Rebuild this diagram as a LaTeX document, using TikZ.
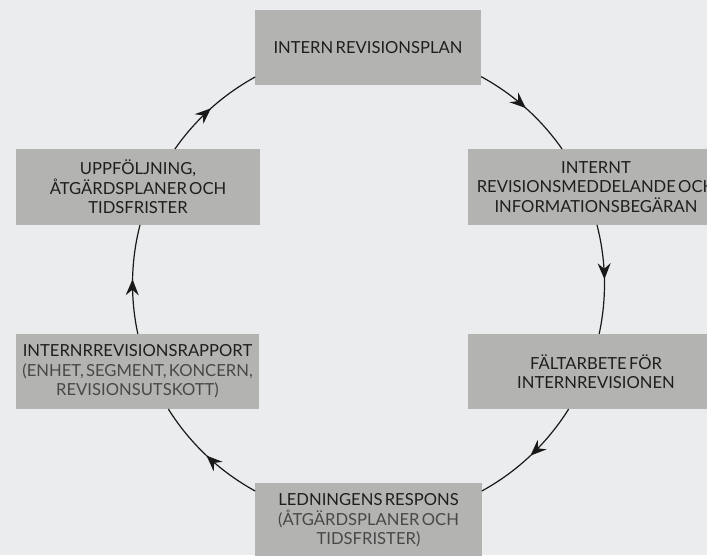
\documentclass[tikz,border=0pt]{standalone}
\usepackage{fontspec}
\setmainfont{Lato}
\usetikzlibrary{arrows.meta,decorations.markings,calc}
\definecolor{bgc}{RGB}{235,236,238}
\definecolor{boxc}{RGB}{179,180,177}
\definecolor{txt}{RGB}{30,30,30}
\definecolor{txtl}{RGB}{72,72,72}
\definecolor{linec}{RGB}{25,25,25}
\newcommand{\myboxfont}{\fontsize{16.6}{19.5}\selectfont\spaceskip=2.3pt plus 1pt minus 1pt\relax}
\tikzset{
  stepbox/.style={fill=boxc, draw=none, inner sep=0pt, align=center, text=txt,
    font=\myboxfont},
  conn/.style={draw=linec, line width=1.2pt,
    postaction={decorate},
    decoration={markings, mark=at position 0.5 with {\arrow{Stealth[length=16pt,width=13pt,inset=5.5pt]}}}},
}
\begin{document}
\begin{tikzpicture}[x=1pt,y=1pt]
\useasboundingbox (0,0) rectangle (707,555);
\fill[bgc] (0,0) rectangle (707,555);
\begin{scope}
\clip (0,0) rectangle (707,555);
\coordinate (c) at (368.5,271);
\def\R{236}
% connector ends on the box borders
\coordinate (t1) at ($(c)+(61.5:\R)$);
\coordinate (ru1) at ($(c)+(34.9:\R)$);
\coordinate (ru2) at ($(c)+(14.5:\R)$);
\coordinate (rl1) at ($(c)+(-12.2:\R)$);
\coordinate (rl2) at ($(c)+(-32:\R)$);
\coordinate (b1) at ($(c)+(-61.3:\R)$);
\coordinate (b2) at ($(c)+(-118.7:\R)$);
\coordinate (ll1) at ($(c)+(-148:\R)$);
\coordinate (ll2) at ($(c)+(-167.8:\R)$);
\coordinate (lu1) at ($(c)+(-194.5:\R)$);
\coordinate (lu2) at ($(c)+(-214.9:\R)$);
\coordinate (t2) at ($(c)+(-241.3:\R)$);

\node[stepbox, minimum width=226pt, minimum height=75pt] (top) at (368,507.5) {INTERN REVISIONSPLAN};
\node[stepbox, minimum width=256pt, minimum height=76pt] (ru) at (596,368) {INTERNT\\REVISIONSMEDDELANDE OCH\\INFORMATIONSBEGÄRAN};
\node[stepbox, minimum width=256pt, minimum height=75pt] (rl) at (596,183.5) {FÄLTARBETE FÖR\\INTERNREVISIONEN};
\node[stepbox, minimum width=227pt, minimum height=75pt] (bot) at (368.5,34.5) {LEDNINGENS RESPONS\\{\color{txtl}(ÅTGÄRDSPLANER OCH}\\{\color{txtl}TIDSFRISTER)}};
\node[stepbox, minimum width=243pt, minimum height=75pt] (ll) at (137.5,183.5) {INTERNRREVISIONSRAPPORT\\{\color{txtl}(ENHET, SEGMENT, KONCERN,}\\{\color{txtl}REVISIONSUTSKOTT)}};
\node[stepbox, minimum width=244pt, minimum height=76pt] (lu) at (138,368) {UPPFÖLJNING,\\ÅTGÄRDSPLANER OCH\\TIDSFRISTER};

\draw[conn] (t1) arc[start angle=61.5, end angle=34.9, radius=\R];
\draw[conn] (ru2) arc[start angle=14.5, end angle=-12.2, radius=\R];
\draw[conn] (rl2) arc[start angle=-32, end angle=-61.3, radius=\R];
\draw[conn] (b2) arc[start angle=-118.7, end angle=-148, radius=\R];
\draw[conn] (ll2) arc[start angle=-167.8, end angle=-194.5, radius=\R];
\draw[conn] (lu2) arc[start angle=-214.9, end angle=-241.3, radius=\R];
\end{scope}
\end{tikzpicture}
\end{document}
